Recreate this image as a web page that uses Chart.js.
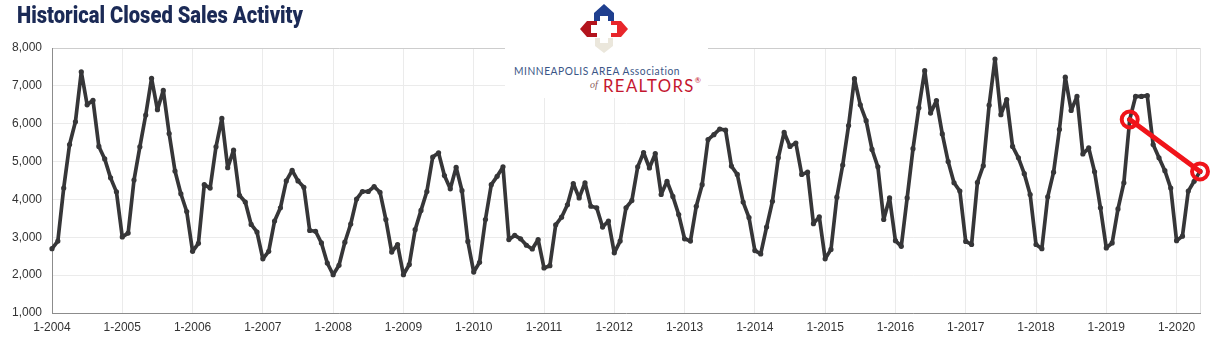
<!DOCTYPE html>
<html>
<head>
<meta charset="utf-8">
<title>Historical Closed Sales Activity</title>
<script src="https://cdn.jsdelivr.net/npm/chart.js@4.4.0/dist/chart.umd.min.js"></script>
<style>
  body { margin: 0; background: #fff; }
  #wrap { position: relative; width: 1214px; height: 345px; overflow: hidden; }
  #salesChart { position: absolute; left: 0; top: 0; }
  #title {
    position: absolute; left: 17px; top: 2px;
    font-family: Roboto, "Liberation Sans", sans-serif;
    font-weight: 900; font-size: 23px; color: #1b2a56;
    white-space: nowrap; transform-origin: left top;
  }
  #logo {
    position: absolute; left: 505px; top: 0; width: 203px; height: 98px;
    background: #fff;
  }
  #logo svg { position: absolute; left: 73px; top: 2px; }
  #logoLine1 {
    position: absolute; left: 9px; top: 64px; white-space: nowrap;
    font-family: Lato, "Open Sans", sans-serif; font-size: 11px;
    color: #3a5586; letter-spacing: 0.6px; transform-origin: left top;
  }
  #logoOf {
    position: absolute; left: 85px; top: 79px;
    font-family: "Liberation Serif", serif; font-style: italic; font-size: 10px; color: #8a5a5a;
  }
  #logoLine2 {
    position: absolute; left: 98px; top: 74px; white-space: nowrap;
    font-family: Lato, "Open Sans", sans-serif; font-size: 18px;
    color: #c4162f; letter-spacing: 1.5px; transform-origin: left top;
  }
  #logoLine2 sup { font-size: 8px; vertical-align: 9px; letter-spacing: 0; }
</style>
</head>
<body>
<div id="wrap">
  <canvas id="salesChart" width="1214" height="345"></canvas>
  <div id="title">Historical Closed Sales Activity</div>
  <div id="logo">
    <svg width="56" height="54" viewBox="0 0 56 54">
      <polygon points="16,11 26,2 36,11 36,19 16,19" fill="#1f3f8f"/>
      <rect x="22" y="14" width="8" height="5" fill="#fff"/>
      <polygon points="2,27 9,19 19,19 19,35 9,35" fill="#b3141d"/>
      <rect x="13" y="23" width="6" height="8" fill="#fff"/>
      <polygon points="50,27 43,19 33,19 33,35 43,35" fill="#e8262b"/>
      <rect x="33" y="23" width="6" height="8" fill="#fff"/>
      <polygon points="17,36 35,36 35,44 26,51 17,44" fill="#ebe7dc"/>
      <rect x="22" y="36" width="8" height="5" fill="#fff"/>
    </svg>
    <div id="logoLine1">MINNEAPOLIS AREA Association</div>
    <div id="logoOf">of</div>
    <div id="logoLine2">REALTORS<sup>®</sup></div>
  </div>
</div>
<script>
// monthly closed sales, Jan..Dec
const sales2004 = [2700, 2900, 4300, 5450, 6050, 7370, 6500, 6620, 5400, 5070, 4570, 4200];
const sales2005 = [3010, 3110, 4510, 5390, 6230, 7200, 6370, 6880, 5740, 4750, 4150, 3680];
const sales2006 = [2630, 2840, 4390, 4300, 5390, 6140, 4840, 5300, 4110, 3930, 3340, 3140];
const sales2007 = [2430, 2630, 3430, 3780, 4490, 4770, 4490, 4320, 3180, 3160, 2850, 2320];
const sales2008 = [2010, 2260, 2870, 3350, 4010, 4210, 4210, 4340, 4190, 3470, 2610, 2810];
const sales2009 = [2010, 2280, 3200, 3710, 4210, 5120, 5230, 4630, 4280, 4850, 4230, 2890];
const sales2010 = [2080, 2340, 3470, 4390, 4610, 4860, 2940, 3050, 2960, 2790, 2690, 2940];
const sales2011 = [2190, 2250, 3330, 3530, 3860, 4420, 4040, 4440, 3820, 3780, 3270, 3430];
const sales2012 = [2590, 2900, 3780, 3970, 4860, 5240, 4830, 5210, 4130, 4480, 4080, 3600];
const sales2013 = [2960, 2900, 3820, 4390, 5580, 5710, 5860, 5830, 4880, 4660, 3930, 3520];
const sales2014 = [2650, 2560, 3270, 3950, 5100, 5770, 5400, 5490, 4660, 4720, 3360, 3540];
const sales2015 = [2430, 2680, 4060, 4910, 5950, 7190, 6500, 6080, 5320, 4860, 3470, 4040];
const sales2016 = [2910, 2760, 4040, 5340, 6420, 7400, 6280, 6610, 5730, 5000, 4440, 4220];
const sales2017 = [2890, 2810, 4450, 4890, 6490, 7710, 6240, 6640, 5400, 5100, 4680, 4130];
const sales2018 = [2810, 2700, 4070, 4720, 5850, 7230, 6350, 6720, 5200, 5360, 4730, 3780];
const sales2019 = [2720, 2850, 3750, 4440, 6110, 6720, 6720, 6740, 5450, 5100, 4760, 4300];
const sales2020 = [2910, 3030, 4220, 4480, 4740];

const years = [2004, 2005, 2006, 2007, 2008, 2009, 2010, 2011, 2012, 2013, 2014, 2015, 2016, 2017, 2018, 2019, 2020];
const salesByYear = [sales2004, sales2005, sales2006, sales2007, sales2008, sales2009, sales2010, sales2011,
                     sales2012, sales2013, sales2014, sales2015, sales2016, sales2017, sales2018, sales2019, sales2020];
const yTicks = [1000, 2000, 3000, 4000, 5000, 6000, 7000, 8000];
const highlightMonths = ['5-2019', '5-2020'];

// labels like "1-2004"
const labels = [];
const sales = [];
years.forEach((y, i) => {
    salesByYear[i].forEach((v, m) => {
        labels.push((m + 1) + '-' + y);
        sales.push(v);
    });
});
const lastIdx = labels.length - 1;
const highlight = labels.map((l, i) => highlightMonths.includes(l) ? sales[i] : null);

Chart.defaults.font.family = '"Liberation Sans", Arial, sans-serif';
Chart.defaults.font.size = 12;
Chart.defaults.color = '#333';

new Chart(document.getElementById('salesChart'), {
    type: 'line',
    data: {
        labels: labels,
        datasets: [{
            data: highlight,
            order: 0,
            spanGaps: true,
            borderColor: '#f0141a',
            borderWidth: 5,
            borderCapStyle: 'round',
            pointRadius: 8,
            pointBorderWidth: 4,
            pointBorderColor: '#f0141a',
            pointBackgroundColor: 'rgba(0,0,0,0)'
        }, {
            data: sales,
            order: 1,
            borderColor: '#363638',
            borderWidth: 3.7,
            borderJoinStyle: 'round',
            borderCapStyle: 'round',
            pointRadius: 2.6,
            pointBorderWidth: 0,
            pointBackgroundColor: '#363638',
            tension: 0
        }]
    },
    options: {
        responsive: false,
        animation: false,
        layout: { padding: { left: 0, right: 14, top: 48, bottom: 0 } },
        plugins: { legend: { display: false }, tooltip: { enabled: false } },
        scales: {
            x: {
                offset: false,
                border: { color: '#8c8c8c', width: 1 },
                grid: {
                    drawTicks: false,
                    color: ctx => {
                        const l = labels[ctx.index] || '';
                        if (ctx.index === lastIdx) return '#e2e2e2';
                        return l.startsWith('1-') ? '#ebebeb' : 'rgba(0,0,0,0)';
                    }
                },
                ticks: {
                    autoSkip: false, maxRotation: 0, minRotation: 0, padding: 7,
                    color: '#333',
                    callback: function (value) {
                        const l = this.getLabelForValue(value);
                        return l.startsWith('1-') ? l : '';
                    }
                },
                afterFit: s => { s.height = 32; }
            },
            y: {
                min: yTicks[0],
                max: yTicks[yTicks.length - 1],
                border: { color: '#8c8c8c', width: 1 },
                grid: {
                    drawTicks: false,
                    color: ctx => ctx.tick && ctx.tick.value === 8000 ? '#cdcdcd' : '#ebebeb'
                },
                afterBuildTicks: s => { s.ticks = yTicks.map(v => ({ value: v })); },
                ticks: {
                    padding: 10,
                    color: '#333',
                    callback: v => v.toLocaleString('en-US')
                },
                afterFit: s => { s.width = 52; }
            }
        }
    }
});

function fitWidth(el, target) {
    el.style.display = 'inline-block';
    const w = el.getBoundingClientRect().width;
    el.style.transform = 'scaleX(' + (target / w) + ')';
}
document.fonts.ready.then(() => {
    fitWidth(document.getElementById('title'), 286);
    fitWidth(document.getElementById('logoLine1'), 166);
    fitWidth(document.getElementById('logoLine2'), 98);
});
</script>
</body>
</html>
